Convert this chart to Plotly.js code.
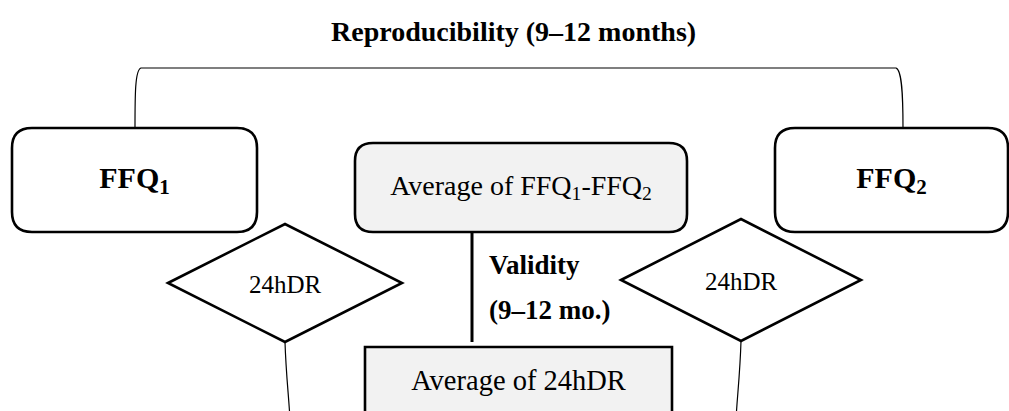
<!DOCTYPE html>
<html>
<head>
<meta charset="utf-8">
<script src="https://cdn.plot.ly/plotly-3.0.1.min.js"></script>
<style>html,body{margin:0;padding:0;background:#fff}#chart{width:1009px;height:411px}</style>
</head>
<body>
<div id="chart"></div>
<script>
// ---- content (text) ----
var titleText = "Reproducibility (9–12 months)";
var boxLabels = ["<b>FFQ<sub>1</sub></b>", "Average of FFQ<sub>1</sub>-FFQ<sub>2</sub>", "<b>FFQ<sub>2</sub></b>", "Average of 24hDR"];
var diamondLabels = ["24hDR", "24hDR"];
var validityLines = ["<b>Validity</b>", "<b>(9–12 mo.)</b>"];

// ---- geometry (pixel coordinates, y downward) ----
var boxes = [
  {x0: 12,  y0: 128, x1: 257,  y1: 232, r: 20, fill: "#ffffff", size: 30},
  {x0: 355, y0: 143, x1: 687,  y1: 232, r: 18, fill: "#f2f2f2", size: 28},
  {x0: 775, y0: 128, x1: 1008, y1: 232, r: 20, fill: "#ffffff", size: 30},
  {x0: 365, y0: 347, x1: 672,  y1: 440, r: 0,  fill: "#f2f2f2", size: 28.5, ty: 383}
];
var diamonds = [
  {cx: 285, cy: 283, hw: 117, hh: 59},
  {cx: 741, cy: 280, hw: 120, hh: 61}
];
var validityPos = [{x: 489, y: 267}, {x: 489, y: 312}];

function roundRect(b) {
  var r = b.r, x0 = b.x0, y0 = b.y0, x1 = b.x1, y1 = b.y1;
  if (!r) return "M" + x0 + "," + y0 + " L" + x1 + "," + y0 + " L" + x1 + "," + y1 + " L" + x0 + "," + y1 + " Z";
  return "M" + (x0 + r) + "," + y0 + " L" + (x1 - r) + "," + y0 + " Q" + x1 + "," + y0 + " " + x1 + "," + (y0 + r) +
    " L" + x1 + "," + (y1 - r) + " Q" + x1 + "," + y1 + " " + (x1 - r) + "," + y1 +
    " L" + (x0 + r) + "," + y1 + " Q" + x0 + "," + y1 + " " + x0 + "," + (y1 - r) +
    " L" + x0 + "," + (y0 + r) + " Q" + x0 + "," + y0 + " " + (x0 + r) + "," + y0 + " Z";
}
function diamondPath(d) {
  return "M" + (d.cx - d.hw) + "," + d.cy + " L" + d.cx + "," + (d.cy - d.hh) + " L" + (d.cx + d.hw) + "," + d.cy +
    " L" + d.cx + "," + (d.cy + d.hh) + " Z";
}

var serif = "Liberation Serif, Times New Roman, serif";
var shapes = [];

// bracket on top
shapes.push({type: "path", xref: "x", yref: "y",
  path: "M135,128 C135,95 135,70 141,68 L896,68 C902,70 903,95 903,128",
  line: {color: "#000", width: 1.2}});
// connector curves below diamonds
shapes.push({type: "path", xref: "x", yref: "y", path: "M285,342 C286,375 289,398 290,420", line: {color: "#000", width: 1.2}});
shapes.push({type: "path", xref: "x", yref: "y", path: "M741,341 C740,375 737,398 736,420", line: {color: "#000", width: 1.2}});
// validity line
shapes.push({type: "line", xref: "x", yref: "y", x0: 472, x1: 472, y0: 232, y1: 342, line: {color: "#000", width: 3}});

boxes.forEach(function (b) {
  shapes.push({type: "path", xref: "x", yref: "y", path: roundRect(b), fillcolor: b.fill,
    line: {color: "#000", width: 2.6}, layer: "below"});
});
diamonds.forEach(function (d) {
  shapes.push({type: "path", xref: "x", yref: "y", path: diamondPath(d), fillcolor: "#fff",
    line: {color: "#000", width: 2.6}, layer: "below"});
});

var traces = [
  {type: "scatter", mode: "text", hoverinfo: "skip", cliponaxis: false,
    x: boxes.map(function (b) { return (b.x0 + b.x1) / 2; }),
    y: boxes.map(function (b) { return b.ty || (b.y0 + b.y1) / 2; }),
    text: boxLabels, textposition: "middle center",
    textfont: {family: serif, size: boxes.map(function (b) { return b.size; }), color: "#000"}},
  {type: "scatter", mode: "text", hoverinfo: "skip", cliponaxis: false,
    x: diamonds.map(function (d) { return d.cx; }),
    y: diamonds.map(function (d) { return d.cy + 4; }),
    text: diamondLabels, textposition: "middle center",
    textfont: {family: serif, size: 25, color: "#000"}},
  {type: "scatter", mode: "text", hoverinfo: "skip", cliponaxis: false,
    x: validityPos.map(function (p) { return p.x; }),
    y: validityPos.map(function (p) { return p.y; }),
    text: validityLines, textposition: "middle right",
    textfont: {family: serif, size: 27, color: "#000"}}
];

var layout = {
  width: 1009, height: 411,
  margin: {l: 0, r: 0, t: 0, b: 0},
  paper_bgcolor: "#fff", plot_bgcolor: "#fff",
  title: {text: "<b>" + titleText + "</b>", x: 0.509, xanchor: "center", y: 1 - 31 / 411, yanchor: "middle",
    yref: "paper", font: {family: serif, size: 28, color: "#000"}},
  xaxis: {range: [0, 1009], visible: false, fixedrange: true},
  yaxis: {range: [411, 0], visible: false, fixedrange: true},
  shapes: shapes,
  showlegend: false
};
Plotly.newPlot("chart", traces, layout, {displayModeBar: false});
</script>
</body>
</html>
